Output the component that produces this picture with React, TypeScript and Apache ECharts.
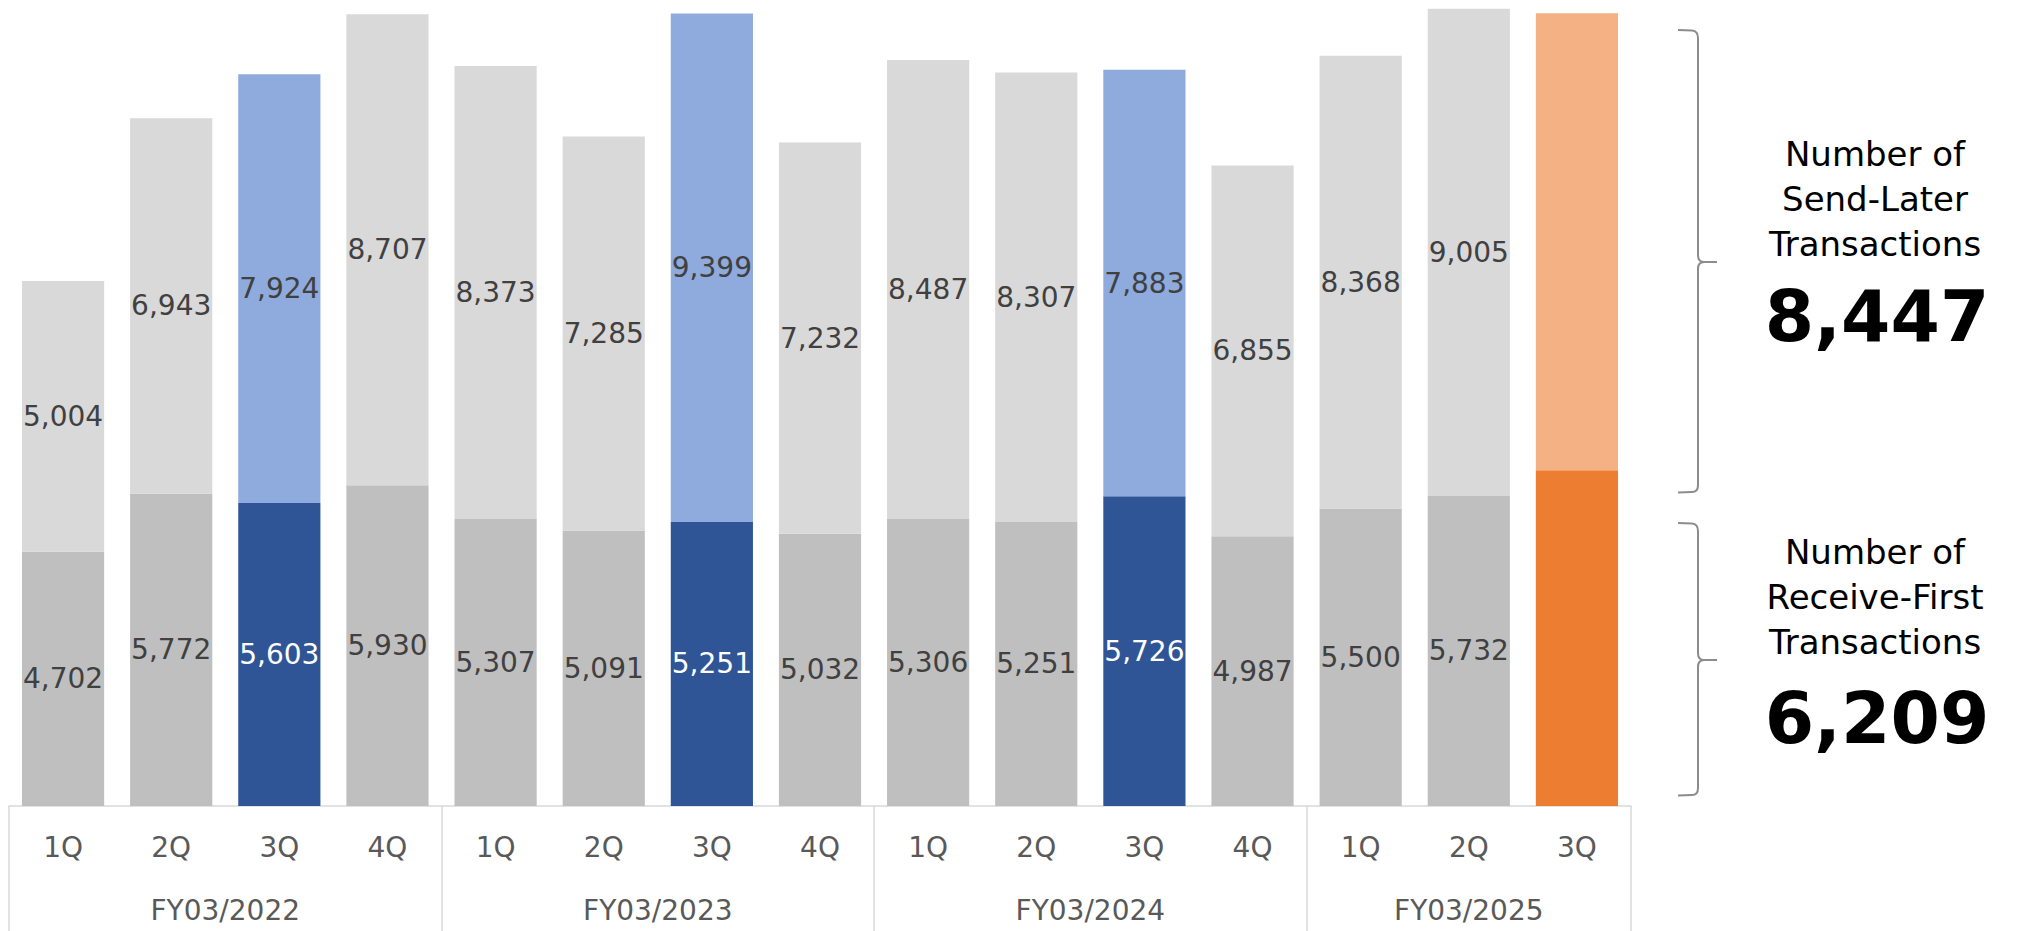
import React, { useEffect, useRef } from "react";
import * as echarts from "echarts";

// Quarterly transaction counts, FY03/2022 – FY03/2025 (3Q)
const quarters = ["1Q", "2Q", "3Q", "4Q", "1Q", "2Q", "3Q", "4Q", "1Q", "2Q", "3Q", "4Q", "1Q", "2Q", "3Q"];
const fiscalYears = ["FY03/2022", "FY03/2023", "FY03/2024", "FY03/2025"];
const quartersPerYear = [4, 4, 4, 3];
const receiveFirst = [4702, 5772, 5603, 5930, 5307, 5091, 5251, 5032, 5306, 5251, 5726, 4987, 5500, 5732, 6209];
const sendLater = [5004, 6943, 7924, 8707, 8373, 7285, 9399, 7232, 8487, 8307, 7883, 6855, 8368, 9005, 8447];

const COLORS = {
  grayBottom: "#bfbfbf",
  grayTop: "#d9d9d9",
  blueBottom: "#2f5597",
  blueTop: "#8faadc",
  orangeBottom: "#ed7d31",
  orangeTop: "#f4b183",
  label: "#404040",
  axisText: "#595959",
  frame: "#d9d9d9",
  brace: "#8c8c8c",
};

const FONT = "DejaVu Sans";
const fmt = (v: number) => v.toLocaleString("en-US");

// curly braces beside the latest bar
const braceTop =
  "M1678,30 L1692,30.5 Q1698,31 1698,38 L1698,255 Q1698,262 1704,262 L1717,262 M1704,262 Q1698,262 1698,269 L1698,485 Q1698,492 1692,492 L1678,492.5";
const braceBottom =
  "M1678,523 L1692,523.5 Q1698,524 1698,531 L1698,653 Q1698,660 1704,660 L1717,660 M1704,660 Q1698,660 1698,667 L1698,788 Q1698,795 1692,795 L1678,795.5";
echarts.graphic.registerShape("braceTop", echarts.graphic.extendPath(braceTop, {}));
echarts.graphic.registerShape("braceBottom", echarts.graphic.extendPath(braceBottom, {}));

export default function App() {
  const ref = useRef<HTMLDivElement>(null);

  useEffect(() => {
    if (!ref.current) return;
    const chart = echarts.init(ref.current, undefined, { renderer: "svg" });
    const last = quarters.length - 1;

    const kind = (i: number) => (i === last ? "orange" : quarters[i] === "3Q" ? "blue" : "gray");

    const bottomData = receiveFirst.map((v, i) => {
      const k = kind(i);
      return {
        value: v,
        itemStyle: {
          color: k === "orange" ? COLORS.orangeBottom : k === "blue" ? COLORS.blueBottom : COLORS.grayBottom,
        },
        label: { show: k !== "orange", color: k === "blue" ? "#ffffff" : COLORS.label },
      };
    });
    const topData = sendLater.map((v, i) => {
      const k = kind(i);
      return {
        value: v,
        itemStyle: {
          color: k === "orange" ? COLORS.orangeTop : k === "blue" ? COLORS.blueTop : COLORS.grayTop,
        },
        label: { show: k !== "orange", color: COLORS.label },
      };
    });

    // fiscal-year boundaries and label centres on a 0..n scale
    const bounds: number[] = [0];
    quartersPerYear.forEach((q) => bounds.push(bounds[bounds.length - 1] + q));
    const centres = quartersPerYear.map((q, i) => bounds[i] + q / 2);

    const line = (text: string, y: number) => ({
      type: "text",
      x: 1875,
      y,
      style: {
        text,
        fill: "#000000",
        font: `34px "${FONT}"`,
        align: "center",
        verticalAlign: "middle",
      },
    });
    const bigNumber = (value: number, y: number) => ({
      type: "text",
      x: 1877,
      y,
      style: {
        text: fmt(value),
        fill: "#000000",
        font: `bold 71px "${FONT}"`,
        align: "center",
        verticalAlign: "middle",
      },
    });

    const barLabel = {
      show: true,
      position: "inside",
      fontFamily: FONT,
      fontSize: 28,
      formatter: (p: any) => fmt(p.value),
    };

    chart.setOption({
      animation: false,
      backgroundColor: "#ffffff",
      grid: { left: 9, right: 389, top: 0, bottom: 125 },
      xAxis: [
        {
          type: "category",
          data: quarters,
          position: "bottom",
          axisLine: { show: true, lineStyle: { color: COLORS.frame, width: 1.5 } },
          axisTick: { show: false },
          axisLabel: {
            margin: 27,
            color: COLORS.axisText,
            fontFamily: FONT,
            fontSize: 28,
            interval: 0,
          },
        },
        {
          type: "value",
          min: 0,
          max: quarters.length,
          position: "bottom",
          axisLine: { show: false },
          splitLine: { show: false },
          axisTick: {
            show: true,
            customValues: bounds,
            length: 126,
            lineStyle: { color: COLORS.frame, width: 1.5 },
          },
          axisLabel: {
            show: true,
            customValues: centres,
            margin: 90,
            formatter: (v: number) => {
              const i = centres.indexOf(v);
              return i >= 0 ? `{fy|${fiscalYears[i]}}` : "";
            },
            rich: {
              fy: {
                color: COLORS.axisText,
                fontFamily: FONT,
                fontSize: 28,
              },
            },
          },
        },
      ],
      yAxis: { type: "value", min: 0, max: 14900, show: false },
      series: [
        {
          name: "Receive-First",
          type: "bar",
          stack: "total",
          xAxisIndex: 0,
          barCategoryGap: "24%",
          data: bottomData,
          label: barLabel,
        },
        {
          name: "Send-Later",
          type: "bar",
          stack: "total",
          xAxisIndex: 0,
          barCategoryGap: "24%",
          data: topData,
          label: barLabel,
        },
      ],
      graphic: [
        { type: "braceTop", style: { stroke: COLORS.brace, lineWidth: 2, fill: "none" } },
        { type: "braceBottom", style: { stroke: COLORS.brace, lineWidth: 2, fill: "none" } },
        line("Number of", 154),
        line("Send-Later", 199),
        line("Transactions", 244),
        bigNumber(sendLater[last], 316),
        line("Number of", 552),
        line("Receive-First", 597),
        line("Transactions", 642),
        bigNumber(receiveFirst[last], 718),
      ],
    });

    return () => chart.dispose();
  }, []);

  return (
    <div
      ref={ref}
      style={{ position: "absolute", left: 0, top: 0, width: 2020, height: 931, background: "#ffffff" }}
    />
  );
}
